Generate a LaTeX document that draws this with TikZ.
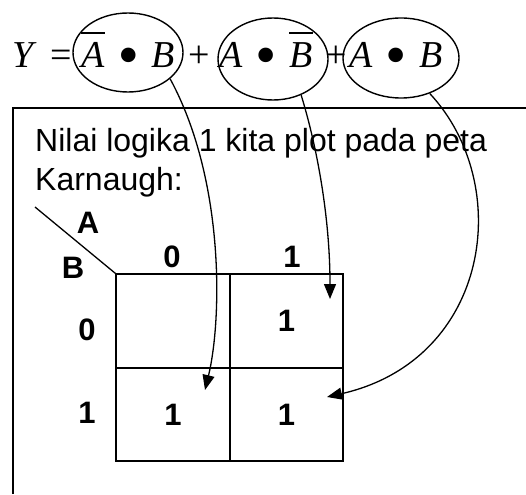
\documentclass[tikz,border=0pt]{standalone}
\usepackage{fontspec}
\usepackage{tikz}
\usetikzlibrary{shapes.geometric,arrows.meta,positioning,calc}
\setmainfont{Liberation Sans}
\newfontfamily\eqfont{Liberation Serif}
% garis atas (komplemen) dan titik AND
\newlength\barlen
\newcommand\obar[1]{\settowidth\barlen{#1}\rlap{\rule[0.9em]{\barlen}{1.7pt}}#1}
\newcommand\andop{\,\,\raisebox{-0.2em}{\scalebox{1.6}{•}}\,\,}
\tikzset{
  eqtxt/.style={inner sep=0pt,font=\eqfont\fontsize{38}{40}\selectfont},
  term/.style={ellipse,draw,line width=1.4pt,inner sep=0pt},
  lbl/.style={inner sep=0pt,font=\fontsize{31}{33}\selectfont\bfseries},
  cell/.style={rectangle,draw,line width=1.7pt,minimum width=113.5pt,
               minimum height=93.5pt,inner sep=0pt,
               font=\fontsize{31}{33}\selectfont\bfseries},
  arr/.style={-{Triangle[length=15pt,width=12pt]},line width=1.3pt}
}

\begin{document}
\begin{tikzpicture}[x=1pt,y=-1pt,
  every node/.style={text=black}]
  \useasboundingbox (0,0) rectangle (526,494);

  % persamaan
  \node[eqtxt,anchor=base west] (y) at (12,68) {\itshape Y};
  \node[eqtxt,anchor=base] (eq) at (61,68) {=};
  \node[eqtxt,anchor=base] (t1) at (128,68) {\obar{\itshape A}\andop{\itshape B}};
  \node[eqtxt,anchor=base] (p1) at (199,68) {+};
  \node[eqtxt,anchor=base] (t2) at (266,68) {{\itshape A}\andop\obar{\itshape B}};
  \node[eqtxt,anchor=base] (p2) at (336,68) {+};
  \node[eqtxt,anchor=base] (t3) at (396,68) {{\itshape A}\andop{\itshape B}};
  \node[term,minimum width=110pt,minimum height=79pt] (e1) at (128,52.5) {};
  \node[term,minimum width=110pt,minimum height=82pt] (e2) at (273,59) {};
  \node[term,minimum width=116pt,minimum height=80pt] (e3) at (401,58) {};

  % kotak
  \draw[line width=1.4pt] (13,494) -- (13,108) -- (526,108);
  \node[anchor=base west,inner sep=0pt,font=\fontsize{32}{36}\selectfont] (txt1) at (35,152) {Nilai logika 1 kita plot pada peta};
  \node[anchor=base west,inner sep=0pt,font=\fontsize{32}{36}\selectfont] (txt2) at (35,190) {Karnaugh:};

  % peta Karnaugh
  \node[cell] (c00) at (173,321) {};
  \node[cell] (c01) at (286.5,321) {1};
  \node[cell] (c10) at (173,414.5) {1};
  \node[cell] (c11) at (286.5,414.5) {1};
  \coordinate (diag) at (35,207);
  \draw[line width=1.3pt] (diag) -- (c00.north west);
  \node[lbl] (la) at (88,223) {A};
  \node[lbl] (lb) at (73,268) {B};
  \node[lbl] (a0) at (172,257) {0};
  \node[lbl] (a1) at (292,257) {1};
  \node[lbl] (b0) at (87,330) {0};
  \node[lbl] (b1) at (87,413) {1};

  % panah
  \coordinate (k1) at (205,390);
  \coordinate (k2) at (330,299);
  \coordinate (k3) at (327,397);
  \draw[arr] (e1.-32) .. controls (225,180) and (222,320) .. (k1);
  \draw[arr] (e2.-52) .. controls (318,150) and (330,220) .. (k2);
  \draw[arr] (e3.-51) .. controls (515,185) and (490,360) .. (k3);
\end{tikzpicture}
\end{document}
